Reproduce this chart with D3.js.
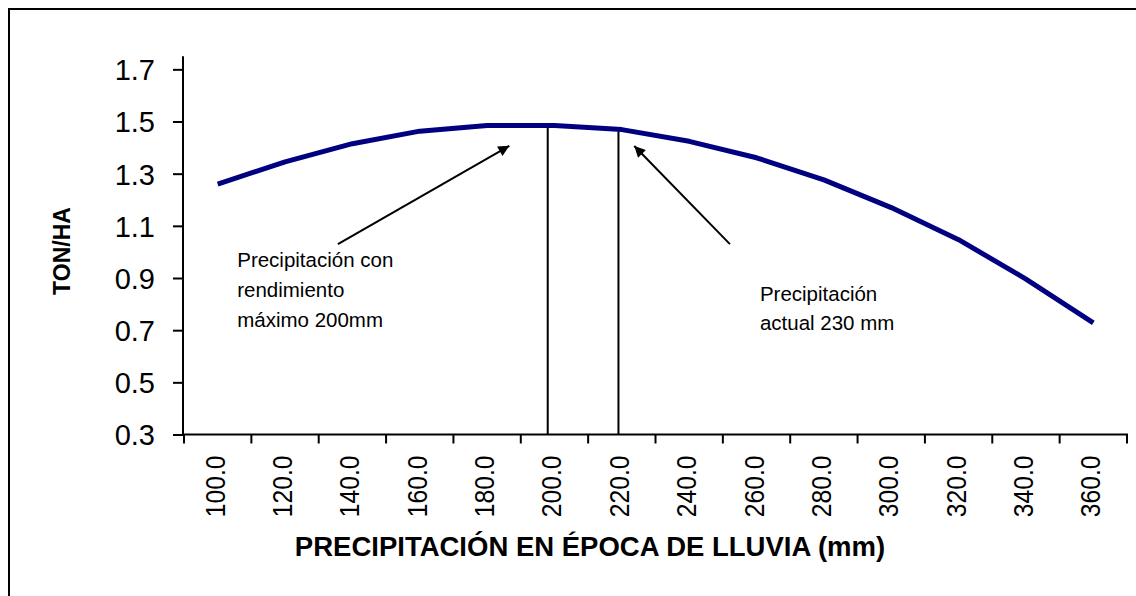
<!DOCTYPE html>
<html>
<head>
<meta charset="utf-8">
<script src="https://cdn.jsdelivr.net/npm/d3@7"></script>
<style>
    body { margin: 0; background: #fff; }
    svg { display: block; font-family: "Liberation Sans", Arial, sans-serif; }
</style>
</head>
<body>
<div id="chart"></div>
<script>
// Rainfall in the wet season (mm), category axis
const precipitation = [100, 120, 140, 160, 180, 200, 220, 240, 260, 280, 300, 320, 340, 360];
// Yield (ton/ha)
const yieldTonHa = [1.26, 1.345, 1.415, 1.463, 1.485, 1.485, 1.469, 1.424, 1.361, 1.276, 1.170, 1.047, 0.896, 0.728];
// Y axis ticks
const yTicks = [0.3, 0.5, 0.7, 0.9, 1.1, 1.3, 1.5, 1.7];
// Vertical markers (mm): max yield and current rainfall
const markerMm = [198, 219];
// Arrows, in data units: [fromMm, fromYield, toMm, toYield]
const arrows = [
    [135.7, 1.03, 186.6, 1.407],
    [252.1, 1.03, 223.7, 1.406]
];
// Annotation texts, anchored in data units
const notes = [
    { mm: 105.8, val: 0.941, lines: ["Precipitación con", "rendimiento", "máximo 200mm"] },
    { mm: 261.0, val: 0.813, lines: ["Precipitación", "actual 230 mm"] }
];

const width = 1136, height = 596;
const plot = { left: 184, right: 1127, top: 56.3, bottom: 434.5 };

const svg = d3.select("#chart").append("svg")
    .attr("width", width)
    .attr("height", height);

// outer frame (right and bottom edges fall outside the picture)
svg.append("rect")
    .attr("x", 9).attr("y", 9)
    .attr("width", 1140).attr("height", 600)
    .attr("fill", "none").attr("stroke", "#000").attr("stroke-width", 2);

// --------------------------------------
// Scales
const x = d3.scaleBand().domain(precipitation).range([plot.left, plot.right]).padding(0);
const step = x.step();
// linear version of the category axis for markers/annotations
const xMm = d3.scaleLinear()
    .domain([precipitation[0], precipitation[precipitation.length - 1]])
    .range([x(precipitation[0]) + step / 2, x(precipitation[precipitation.length - 1]) + step / 2]);
const y = d3.scaleLinear().domain([0.3, 1.75]).range([plot.bottom, plot.top]);

// --------------------------------------
// Y axis
const yAxis = svg.append("g").attr("transform", `translate(${plot.left - 1},0)`)
    .call(d3.axisLeft(y).tickValues(yTicks).tickFormat(d3.format(".1f")).tickSize(10).tickPadding(18));
yAxis.select(".domain").attr("stroke-width", 2).attr("d", `M0,${plot.top}V${plot.bottom}`);
yAxis.selectAll(".tick line").attr("stroke-width", 2);
yAxis.selectAll(".tick text").attr("font-size", 29).attr("fill", "#000")
    .attr("font-family", "Liberation Sans, Arial, sans-serif").attr("dy", "0.36em");

// X axis (ticks at the category boundaries)
const xAxisG = svg.append("g").attr("transform", `translate(0,${plot.bottom})`);
xAxisG.append("path")
    .attr("d", `M${plot.left - 1},0H${plot.right + 1}`)
    .attr("stroke", "#000").attr("stroke-width", 2);
const bounds = precipitation.map(d => x(d)).concat([plot.right]);
xAxisG.selectAll("line.xtick").data(bounds).join("line")
    .attr("class", "xtick")
    .attr("x1", d => d).attr("x2", d => d)
    .attr("y1", 0).attr("y2", 9)
    .attr("stroke", "#000").attr("stroke-width", 2);
xAxisG.selectAll("text.xlab").data(precipitation).join("text")
    .attr("class", "xlab")
    .attr("transform", d => `translate(${x(d) + step / 2 - 3 + 10},21) rotate(-90) scale(0.88,1)`)
    .attr("text-anchor", "end")
    .attr("font-size", 28)
    .text(d => d3.format(".1f")(d));

// --------------------------------------
// Axis titles
svg.append("text")
    .attr("x", 590).attr("y", 556)
    .attr("text-anchor", "middle")
    .attr("font-size", 27.5).attr("font-weight", "bold")
    .text("PRECIPITACIÓN EN ÉPOCA DE LLUVIA (mm)");
svg.append("text")
    .attr("transform", "translate(70,251) rotate(-90)")
    .attr("text-anchor", "middle")
    .attr("font-size", 23).attr("font-weight", "bold")
    .text("TON/HA");

// --------------------------------------
// Curve
const line = d3.line()
    .x((d, i) => x(precipitation[i]) + step / 2)
    .y(d => y(d));
svg.append("path")
    .datum(yieldTonHa)
    .attr("d", line)
    .attr("fill", "none")
    .attr("stroke", "#000080")
    .attr("stroke-width", 5)
    .attr("stroke-linejoin", "round");

// Vertical markers from the axis up to the curve
const curveAt = d3.scaleLinear().domain(precipitation).range(yieldTonHa);
svg.append("g").selectAll("line").data(markerMm).join("line")
    .attr("x1", d => xMm(d)).attr("x2", d => xMm(d))
    .attr("y1", plot.bottom).attr("y2", d => y(curveAt(d)) + 2)
    .attr("stroke", "#000").attr("stroke-width", 2);

// --------------------------------------
// Arrows
svg.append("defs").append("marker")
    .attr("id", "head")
    .attr("viewBox", "0 0 10 10")
    .attr("refX", 10).attr("refY", 5)
    .attr("markerWidth", 13).attr("markerHeight", 11)
    .attr("markerUnits", "userSpaceOnUse")
    .attr("orient", "auto")
    .append("path").attr("d", "M0,0L10,5L0,10z").attr("fill", "#000");
svg.append("g").selectAll("line").data(arrows).join("line")
    .attr("x1", d => xMm(d[0])).attr("y1", d => y(d[1]))
    .attr("x2", d => xMm(d[2])).attr("y2", d => y(d[3]))
    .attr("stroke", "#000").attr("stroke-width", 2)
    .attr("marker-end", "url(#head)");

// Annotation texts
notes.forEach(n => {
    const t = svg.append("text")
        .attr("x", xMm(n.mm)).attr("y", y(n.val))
        .attr("font-size", 20.5);
    n.lines.forEach((s, i) => {
        t.append("tspan").attr("x", xMm(n.mm)).attr("dy", i === 0 ? 0 : 29.7).text(s);
    });
});
</script>
</body>
</html>
